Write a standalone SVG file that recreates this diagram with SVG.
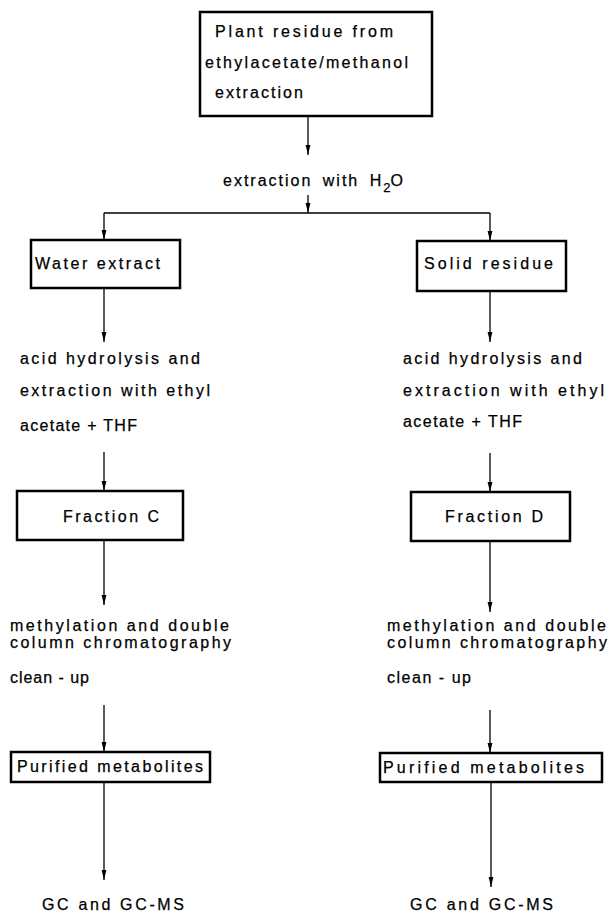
<svg xmlns="http://www.w3.org/2000/svg" width="608" height="918" viewBox="0 0 608 918">
<style>
  .box { fill: #fff; stroke: #000; stroke-width: 2.5; }
  .t { font-family: "Liberation Sans", Arial, sans-serif; font-size: 16px; fill: #000; stroke: #000; stroke-width: 0.25; }
  .c { stroke: #000; stroke-width: 1.3; fill: none; }
  .a { marker-end: url(#ah); }
</style>
<defs>
  <marker id="ah" markerUnits="userSpaceOnUse" markerWidth="10" markerHeight="6" refX="10" refY="3" orient="auto">
    <path d="M0,0.6 L10,3 L0,5.4 z" fill="#000"/>
  </marker>
</defs>
<rect width="608" height="918" fill="#fff"/>

<g id="connectors">
  <line class="c a" x1="308" y1="116" x2="308" y2="155"/>
  <line class="c a" x1="308" y1="195" x2="308" y2="213"/>
  <line class="c" x1="104" y1="213" x2="490" y2="213"/>
  <line class="c a" x1="104" y1="213" x2="104" y2="240"/>
  <line class="c a" x1="490" y1="213" x2="490" y2="241"/>
  <line class="c a" x1="104" y1="288" x2="104" y2="342"/>
  <line class="c a" x1="490" y1="291" x2="490" y2="342"/>
  <line class="c a" x1="104" y1="452" x2="104" y2="491"/>
  <line class="c a" x1="490" y1="453" x2="490" y2="492"/>
  <line class="c a" x1="104" y1="540" x2="104" y2="605"/>
  <line class="c a" x1="490" y1="541" x2="490" y2="612"/>
  <line class="c a" x1="104" y1="705" x2="104" y2="752"/>
  <line class="c a" x1="490" y1="710" x2="490" y2="753"/>
  <line class="c a" x1="104" y1="782" x2="104" y2="880"/>
  <line class="c a" x1="491" y1="782" x2="491" y2="887"/>
</g>

<g id="plant-residue">
  <rect class="box" x="200" y="12" width="232" height="104"/>
  <text class="t" x="215" y="37" textLength="178" lengthAdjust="spacing">Plant residue from</text>
  <text class="t" x="205" y="68" textLength="203" lengthAdjust="spacing">ethylacetate/methanol</text>
  <text class="t" x="215" y="98" textLength="88" lengthAdjust="spacing">extraction</text>
</g>

<g id="step-water">
  <text class="t" x="223" y="186" letter-spacing="2" word-spacing="4">extraction with H<tspan dy="6" font-size="13" letter-spacing="0">2</tspan><tspan dy="-6">O</tspan></text>
</g>

<g id="water-extract">
  <rect class="box" x="31" y="240" width="149" height="48"/>
  <text class="t" x="35" y="269" textLength="125" lengthAdjust="spacing">Water extract</text>
</g>

<g id="solid-residue">
  <rect class="box" x="417" y="241" width="149" height="50"/>
  <text class="t" x="424" y="269" textLength="129" lengthAdjust="spacing">Solid residue</text>
</g>

<g id="step-hydrolysis-left">
  <text class="t" x="20" y="364" textLength="180" lengthAdjust="spacing">acid hydrolysis and</text>
  <text class="t" x="20" y="396" textLength="190" lengthAdjust="spacing">extraction with ethyl</text>
  <text class="t" x="20" y="431" textLength="117" lengthAdjust="spacing">acetate + THF</text>
</g>

<g id="step-hydrolysis-right">
  <text class="t" x="403" y="364" textLength="179" lengthAdjust="spacing">acid hydrolysis and</text>
  <text class="t" x="403" y="396" textLength="201" lengthAdjust="spacing">extraction with ethyl</text>
  <text class="t" x="403" y="427" textLength="119" lengthAdjust="spacing">acetate + THF</text>
</g>

<g id="fraction-c">
  <rect class="box" x="17" y="491" width="166" height="49"/>
  <text class="t" x="63" y="522" textLength="96" lengthAdjust="spacing">Fraction C</text>
</g>

<g id="fraction-d">
  <rect class="box" x="411" y="492" width="159" height="49"/>
  <text class="t" x="445" y="522" textLength="98" lengthAdjust="spacing">Fraction D</text>
</g>

<g id="step-methylation-left">
  <text class="t" x="10" y="631" textLength="219" lengthAdjust="spacing">methylation and double</text>
  <text class="t" x="10" y="648" textLength="221" lengthAdjust="spacing">column chromatography</text>
  <text class="t" x="10" y="683" textLength="79" lengthAdjust="spacing">clean - up</text>
</g>

<g id="step-methylation-right">
  <text class="t" x="387" y="631" textLength="219" lengthAdjust="spacing">methylation and double</text>
  <text class="t" x="387" y="648" textLength="220" lengthAdjust="spacing">column chromatography</text>
  <text class="t" x="387" y="683" textLength="84" lengthAdjust="spacing">clean - up</text>
</g>

<g id="purified-left">
  <rect class="box" x="11" y="752" width="199" height="30"/>
  <text class="t" x="17" y="772" textLength="186" lengthAdjust="spacing">Purified metabolites</text>
</g>

<g id="purified-right">
  <rect class="box" x="380" y="753" width="222" height="29"/>
  <text class="t" x="383" y="773" textLength="201" lengthAdjust="spacing">Purified metabolites</text>
</g>

<g id="gc-left">
  <text class="t" x="42" y="910" textLength="142" lengthAdjust="spacing">GC and GC-MS</text>
</g>

<g id="gc-right">
  <text class="t" x="410" y="910" textLength="143" lengthAdjust="spacing">GC and GC-MS</text>
</g>
</svg>
